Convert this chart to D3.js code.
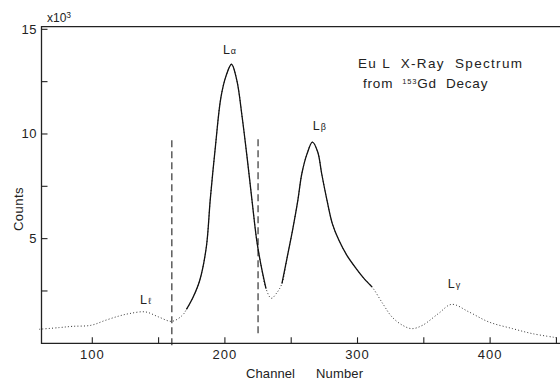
<!DOCTYPE html>
<html>
<head>
<meta charset="utf-8">
<script src="https://cdn.jsdelivr.net/npm/d3@7"></script>
<style>
  body { margin: 0; background: #fff; }
  svg { display: block; }
  text { font-family: "Liberation Sans", "DejaVu Sans", sans-serif; fill: #222; }
</style>
</head>
<body>
<div id="chart"></div>
<script>

// spectrum
let channel = [60, 75, 85, 99, 110, 120, 128, 140, 150, 160,
               168, 171, 176, 181, 186, 189, 193, 197, 201, 205,
               209, 213, 217, 221, 224, 227, 231, 235, 239, 243,
               247, 251, 255, 258, 262, 266, 270, 273, 277, 281,
               286, 292, 299, 305, 311, 319, 326, 334, 341, 349,
               361, 371, 384, 399, 417, 432, 450];
let counts = [670, 750, 810, 860, 1100, 1300, 1420, 1500, 1260, 1050,
              1340, 1620, 2200, 3000, 4600, 6900, 9500, 11750, 12800, 13330,
              12560, 10810, 8740, 6510, 4920, 3810, 2610, 2150, 2400, 2850,
              4120, 5400, 6830, 8100, 9060, 9610, 9140, 8100, 6830, 5720,
              4920, 4200, 3570, 3090, 2690, 1900, 1260, 860, 700, 860,
              1420, 1860, 1500, 1020, 700, 460, 270];

// channel ranges drawn with a solid line (rest is dotted)
let solidRanges = [[171, 231], [243, 311]];

// dashed window markers
let dashChannels = [160, 225];
let dashTop = [9700, 9750];
let dashBottom = [-150, 300];

// peak labels
let peakGreek = ["ℓ", "α", "β", "γ"];
let peakLabelCh = [136, 198.5, 266.3, 368];
let peakLabelCounts = [1880, 13820, 10190, 2640];

let xTicks = [100, 150, 200, 250, 300, 350, 400, 450];
let xTickLabels = [100, 200, 300, 400];
let yTicks = [2500, 5000, 7500, 10000, 12500, 15000];
let yTickLabels = [5000, 10000, 15000];

let width = 560, height = 381;

let svg = d3.select("#chart").append("svg")
    .attr("width", width)
    .attr("height", height);

let xscale = d3.scaleLinear().domain([61.7, 452.7]).range([41.5, 560]);
let yscale = d3.scaleLinear().domain([0, 15125]).range([343.3, 26.7]);

let pts = channel.map((c, i) => [c, counts[i]]);

// frame: left axis, bottom axis, top line
svg.append("path")
    .attr("d", "M" + xscale.range()[1] + "," + yscale.range()[1] +
               "H" + xscale.range()[0] + "V" + yscale.range()[0] +
               "H" + xscale.range()[1])
    .attr("fill", "none")
    .attr("stroke", "#222")
    .attr("stroke-width", 1.3);

// ticks point inward
svg.selectAll(".xtick").data(xTicks).enter()
  .append("line")
    .attr("class", "xtick")
    .attr("x1", d => xscale(d)).attr("x2", d => xscale(d))
    .attr("y1", yscale(0)).attr("y2", yscale(0) - 6)
    .attr("stroke", "#222").attr("stroke-width", 1.1);

svg.selectAll(".ytick").data(yTicks).enter()
  .append("line")
    .attr("class", "ytick")
    .attr("x1", xscale.range()[0]).attr("x2", xscale.range()[0] + 6)
    .attr("y1", d => yscale(d)).attr("y2", d => yscale(d))
    .attr("stroke", "#222").attr("stroke-width", 1.1);

svg.selectAll(".xlab").data(xTickLabels).enter()
  .append("text")
    .attr("class", "xlab")
    .attr("x", d => xscale(d))
    .attr("y", 359)
    .attr("text-anchor", "middle")
    .attr("font-size", 13)
    .attr("letter-spacing", 1)
    .text(d => d);

svg.selectAll(".ylab").data(yTickLabels).enter()
  .append("text")
    .attr("class", "ylab")
    .attr("x", 37)
    .attr("y", d => yscale(d) + 4.5)
    .attr("text-anchor", "end")
    .attr("font-size", 13)
    .attr("letter-spacing", 0.5)
    .text(d => d / 1000);

// x10^3
let mult = svg.append("text")
    .attr("x", 47).attr("y", 22)
    .attr("font-size", 12);
mult.append("tspan").text("x10");
mult.append("tspan").attr("font-size", 8.5).attr("dy", -4).text("3");

svg.append("text")
    .attr("transform", "translate(23,209) rotate(-90)")
    .attr("text-anchor", "middle")
    .attr("font-size", 13)
    .attr("letter-spacing", 0.5)
    .text("Counts");

svg.append("text").attr("x", 246).attr("y", 378).attr("font-size", 13)
    .attr("textLength", 49).attr("lengthAdjust", "spacing").text("Channel");
svg.append("text").attr("x", 316).attr("y", 378).attr("font-size", 13)
    .attr("textLength", 47).attr("lengthAdjust", "spacing").text("Number");

// title block
svg.append("text")
    .attr("x", 358).attr("y", 68)
    .attr("font-size", 13.5)
    .attr("textLength", 164)
    .attr("lengthAdjust", "spacing")
    .style("white-space", "pre")
    .text("Eu L  X-Ray  Spectrum");

let sub = svg.append("text")
    .attr("x", 363).attr("y", 88)
    .attr("font-size", 13.5)
    .attr("letter-spacing", 0.8)
    .style("white-space", "pre");
sub.append("tspan").text("from  ");
sub.append("tspan").attr("font-size", 7.5).attr("dy", -4).text("153");
sub.append("tspan").attr("dy", 4).text("Gd  Decay");

// dashed markers
svg.selectAll(".dash").data(dashChannels).enter()
  .append("line")
    .attr("class", "dash")
    .attr("x1", d => xscale(d)).attr("x2", d => xscale(d))
    .attr("y1", (d, i) => yscale(dashTop[i]))
    .attr("y2", (d, i) => yscale(dashBottom[i]))
    .attr("stroke", "#222")
    .attr("stroke-width", 1.1)
    .attr("stroke-dasharray", "7,4");

// spectrum
let line = d3.line()
    .x(d => xscale(d[0]))
    .y(d => yscale(d[1]))
    .curve(d3.curveCatmullRom.alpha(0.5));

svg.append("path")
    .datum(pts)
    .attr("d", line)
    .attr("fill", "none")
    .attr("stroke", "#333")
    .attr("stroke-width", 1)
    .attr("stroke-dasharray", "1,2.2");

solidRanges.forEach(function(r) {
  svg.append("path")
      .datum(pts.filter(p => p[0] >= r[0] && p[0] <= r[1]))
      .attr("d", line)
      .attr("fill", "none")
      .attr("stroke", "#111")
      .attr("stroke-width", 1.3);
});

// peak labels
peakGreek.forEach(function(g, i) {
  let t = svg.append("text")
      .attr("x", xscale(peakLabelCh[i]))
      .attr("y", yscale(peakLabelCounts[i]))
      .attr("font-size", 12.5);
  t.append("tspan").text("L");
  t.append("tspan").attr("font-size", 9).attr("dx", 1).text(g);
});

</script>
</body>
</html>
